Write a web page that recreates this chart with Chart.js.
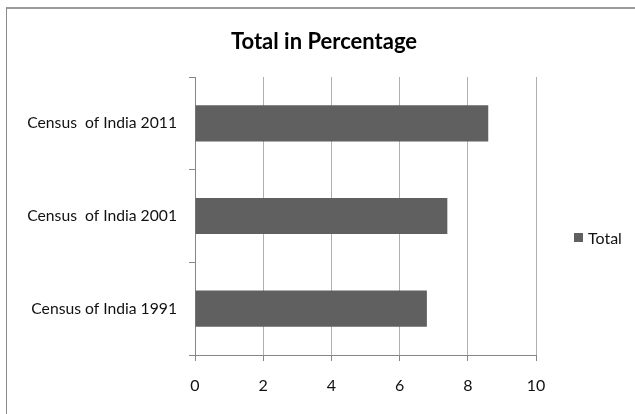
<!DOCTYPE html>
<html>
<head>
<meta charset="utf-8">
<script src="https://cdn.jsdelivr.net/npm/chart.js@4"></script>
<style>
  html, body { margin: 0; padding: 0; background: #fff; }
  #wrap { position: relative; width: 635px; height: 414px; overflow: hidden; }
  #frame {
    position: absolute; left: 6px; top: 7px; width: 700px; height: 500px;
    border-left: 1px solid #8c8c8c; border-top: 2px solid #9a9a9a;
  }
  canvas { position: absolute; left: 0; top: 0; }
  #title {
    position: absolute; left: 224px; width: 200px; top: 27px; text-align: center;
    font: bold 22px Lato, "Open Sans", sans-serif; color: #000; line-height: 28px;
  }
  #legend {
    position: absolute; left: 574px; top: 228px;
    font: 16px Lato, "Open Sans", sans-serif; color: #111;
    display: flex; align-items: center;
  }
  #legend span.box { display: inline-block; width: 9px; height: 9px; margin-right: 5px; }
</style>
</head>
<body>
<div id="wrap">
  <div id="frame"></div>
  <canvas id="chart" width="635" height="414"></canvas>
  <div id="title"></div>
  <div id="legend"></div>
</div>
<script>
// Total in Percentage - census bar chart

const chartTitle = "Total in Percentage";
const categories = ["Census  of India 2011", "Census  of India 2001", "Census of India 1991"];
const totalValues = [8.6, 7.4, 6.8];
const seriesName = "Total";
const xTicks = [0, 2, 4, 6, 8, 10];

const barColor = "#606060";
const axisColor = "#868686";
const gridColor = "#b0b0b0";
const fontFamily = "Lato, 'Open Sans', sans-serif";

document.getElementById("title").textContent = chartTitle;
document.getElementById("legend").innerHTML =
  `<span class="box" style="background:${barColor}"></span>${seriesName}`;

const ctx = document.getElementById("chart").getContext("2d");
new Chart(ctx, {
  type: "bar",
  data: {
    labels: categories,
    datasets: [
      {
        label: seriesName,
        data: totalValues,
        backgroundColor: barColor,
        borderWidth: 0,
        barPercentage: 0.39,
        categoryPercentage: 1
      }
    ]
  },
  options: {
    indexAxis: "y",
    responsive: false,
    animation: false,
    layout: { padding: { left: 0, right: 99, top: 77, bottom: 0 } },
    plugins: {
      legend: { display: false },
      tooltip: { enabled: false },
      title: { display: false }
    },
    scales: {
      x: {
        min: xTicks[0],
        max: xTicks[xTicks.length - 1],
        afterBuildTicks: (axis) => { axis.ticks = xTicks.map((v) => ({ value: v })); },
        afterFit: (axis) => { axis.height = 59; },
        ticks: { color: "#111", font: { family: fontFamily, size: 16 }, padding: 15 },
        grid: { color: gridColor, tickColor: axisColor, tickLength: 6 },
        border: { color: axisColor }
      },
      y: {
        afterFit: (axis) => { axis.width = 195; },
        ticks: { color: "#111", font: { family: fontFamily, size: 15.7 }, padding: 12 },
        grid: { offset: true, drawOnChartArea: false, color: axisColor, tickLength: 6 },
        border: { color: axisColor }
      }
    }
  }
});
</script>
</body>
</html>
